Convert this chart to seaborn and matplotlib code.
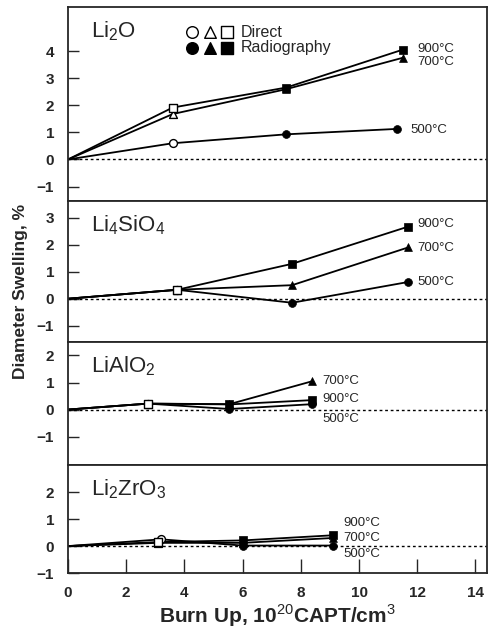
import numpy as np
import pandas as pd
import matplotlib
matplotlib.use("Agg")
import matplotlib.pyplot as plt
import seaborn as sns

# --- data (burn up in 1e20 CAPT/cm3, swelling in %) ---
materials = ["Li2O", "Li4SiO4", "LiAlO2", "Li2ZrO3"]
material_labels = ["Li$_{\\mathregular{2}}$O", "Li$_{\\mathregular{4}}$SiO$_{\\mathregular{4}}$",
                   "LiAlO$_{\\mathregular{2}}$", "Li$_{\\mathregular{2}}$ZrO$_{\\mathregular{3}}$"]
temps = ["500", "700", "900"]
temp_markers = {"500": "o", "700": "^", "900": "s"}

li2o_x = {"500": [0, 3.6, 7.5, 11.3], "700": [0, 3.6, 7.5, 11.5], "900": [0, 3.6, 7.5, 11.5]}
li2o_y = {"500": [0, 0.6, 0.93, 1.13], "700": [0, 1.68, 2.6, 3.76], "900": [0, 1.92, 2.66, 4.06]}

li4sio4_x = {"500": [0, 3.75, 7.7, 11.7], "700": [0, 3.75, 7.7, 11.7], "900": [0, 3.75, 7.7, 11.7]}
li4sio4_y = {"500": [0, 0.33, -0.15, 0.62], "700": [0, 0.33, 0.5, 1.9], "900": [0, 0.33, 1.29, 2.67]}

lialo2_x = {"500": [0, 2.75, 5.55, 8.4], "700": [0, 2.75, 5.55, 8.4], "900": [0, 2.75, 5.55, 8.4]}
lialo2_y = {"500": [0, 0.22, 0.02, 0.2], "700": [0, 0.22, 0.2, 1.05], "900": [0, 0.22, 0.19, 0.35]}

li2zro3_x = {"500": [0, 3.2, 6.0, 9.1], "700": [0, 3.1, 6.0, 9.1], "900": [0, 3.1, 6.0, 9.1]}
li2zro3_y = {"500": [0, 0.25, 0.02, 0.02], "700": [0, 0.12, 0.12, 0.3], "900": [0, 0.15, 0.21, 0.4]}

all_x = [li2o_x, li4sio4_x, lialo2_x, li2zro3_x]
all_y = [li2o_y, li4sio4_y, lialo2_y, li2zro3_y]

# build one long table
rows = []
for mat, xs, ys in zip(materials, all_x, all_y):
    for t in temps:
        for i, (bx, sw) in enumerate(zip(xs[t], ys[t])):
            method = "origin" if i == 0 else ("Direct" if i == 1 else "Radiography")
            rows.append(dict(material=mat, temp=t, burnup=bx, swelling=sw, method=method))
df = pd.DataFrame(rows)

# --- layout ---
sns.set_style("ticks")
plt.rcParams["font.family"] = ["Liberation Sans", "DejaVu Sans"]
plt.rcParams["mathtext.fontset"] = "custom"
plt.rcParams["mathtext.rm"] = "Liberation Sans"

ylims = [(-1.55, 5.64), (-1.6, 3.6), (-2.05, 2.5), (-1.0, 3.0)]
yticks = [range(-1, 5), range(-1, 4), range(-1, 3), range(-1, 3)]
ratios = [hi - lo for lo, hi in ylims]

fig = plt.figure(figsize=(4.96, 6.34), dpi=100)
gs = fig.add_gridspec(4, 1, height_ratios=ratios, hspace=0,
                      left=0.137, right=0.982, top=0.989, bottom=0.096)
axes = [fig.add_subplot(gs[i]) for i in range(4)]

# temperature label placement (x, y in data units)
label_pos = [
    {"900": (12.0, 4.1), "700": (12.0, 3.6), "500": (11.75, 1.1)},
    {"900": (12.0, 2.75), "700": (12.0, 1.87), "500": (12.0, 0.62)},
    {"700": (8.75, 1.05), "900": (8.75, 0.38), "500": (8.75, -0.36)},
    {"900": (9.45, 0.86), "700": (9.45, 0.31), "500": (9.45, -0.28)},
]

for k, (ax, mat) in enumerate(zip(axes, materials)):
    sub = df[df.material == mat]
    ax.axhline(0, color="black", lw=1.0, ls=(0, (2, 2)), zorder=1)
    sns.lineplot(data=sub, x="burnup", y="swelling", units="temp", estimator=None,
                 color="black", lw=1.3, ax=ax, zorder=2, sort=False)
    for t in temps:
        pts = sub[sub.temp == t]
        direct = pts[pts.method == "Direct"]
        radio = pts[pts.method == "Radiography"]
        sns.scatterplot(data=direct, x="burnup", y="swelling", marker=temp_markers[t],
                        s=32, facecolor="white", edgecolor="black", linewidth=1.0,
                        ax=ax, zorder=3)
        sns.scatterplot(data=radio, x="burnup", y="swelling", marker=temp_markers[t],
                        s=32, color="black", edgecolor="black", linewidth=0.5,
                        ax=ax, zorder=3)
        lx, ly = label_pos[k][t]
        ax.text(lx, ly, f"{t}\u00b0C", fontsize=9.5, va="center", ha="left")

    ax.set_xlim(0, 14.4)
    ax.set_ylim(*ylims[k])
    ax.set_yticks(list(yticks[k]))
    ax.set_yticklabels([str(v).replace("-", "\u2212") for v in yticks[k]],
                       fontsize=11, fontweight="bold")
    ax.tick_params(axis="y", direction="in", length=8, width=1.0, pad=10)
    ax.set_xlabel("")
    ax.set_ylabel("")
    for sp in ax.spines.values():
        sp.set_linewidth(1.3)
    ax.annotate(material_labels[k], xy=(0, 1), xycoords="axes fraction",
                xytext=(23, -12), textcoords="offset pixels",
                fontsize=16, va="top", ha="left")
    if k < 3:
        ax.tick_params(axis="x", bottom=False, labelbottom=False)

axes[-1].set_xticks(range(0, 15, 2))
axes[-1].set_xticklabels([str(v) for v in range(0, 15, 2)], fontsize=11, fontweight="bold")
axes[-1].tick_params(axis="x", direction="in", length=10, width=1.0, pad=9)
axes[-1].set_xlabel("Burn Up, 10$^{20}$CAPT/cm$^{3}$", fontsize=15, fontweight="bold",
                    labelpad=2)

# legend: open symbols = direct measurement, filled = radiography
ax0 = axes[0]
for j, t in enumerate(temps):
    ax0.scatter(0.296 + 0.042 * j, 0.87, marker=temp_markers[t], s=70, facecolor="white",
                edgecolor="black", linewidth=1.0, transform=ax0.transAxes, clip_on=False)
    ax0.scatter(0.296 + 0.042 * j, 0.79, marker=temp_markers[t], s=70, color="black",
                transform=ax0.transAxes, clip_on=False)
ax0.text(0.412, 0.87, "Direct", fontsize=11.5, va="center", ha="left", transform=ax0.transAxes)
ax0.text(0.412, 0.79, "Radiography", fontsize=11.5, va="center", ha="left",
         transform=ax0.transAxes)

fig.text(0.042, 0.54, "Diameter Swelling, %", rotation=90, fontsize=12.5,
         fontweight="bold", va="center", ha="center")

fig.savefig("out.png", dpi=100)
